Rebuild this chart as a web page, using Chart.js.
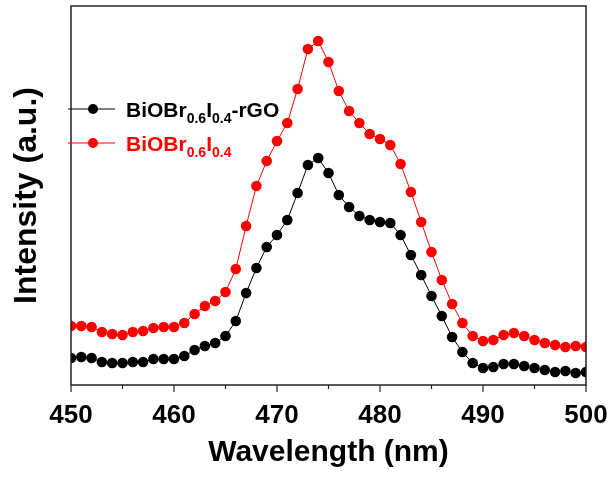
<!DOCTYPE html>
<html>
<head>
<meta charset="utf-8">
<style>
  html, body { margin: 0; padding: 0; background: #fff; }
  canvas { display: block; }
</style>
<script src="https://cdn.jsdelivr.net/npm/chart.js@4/dist/chart.umd.min.js"></script>
</head>
<body>
<canvas id="chart01" width="613" height="479"></canvas>
<script>
// wavelength (nm), one point per nm
var wavelengths = [];
for (var w = 450; w <= 500; w++) wavelengths.push(w);

// intensity (a.u.)
var rgoValues = [27, 28, 27, 23, 22, 22, 23, 23, 26, 26, 26,
  29, 35, 39, 42, 49, 64, 92, 117, 138, 150,
  165, 192, 220, 227, 212, 190, 178, 169, 165, 163,
  162, 150, 130, 110, 89, 69, 48, 33, 22, 17,
  18, 21, 21, 19, 17, 15, 13, 14, 12, 13];
var bareValues = [59, 59, 58, 53, 51, 50, 53, 54, 57, 58, 58,
  62, 71, 79, 84, 93, 116, 159, 199, 224, 244,
  262, 296, 336, 344, 323, 294, 274, 262, 251, 246,
  240, 221, 193, 163, 133, 105, 81, 62, 49, 44,
  45, 50, 52, 49, 45, 42, 40, 38, 39, 38];

var xTicks = [450, 460, 470, 480, 490, 500];
var xMinorTicks = [455, 465, 475, 485, 495];

// legend label pieces: [text, isSubscript]
var rgoLabel = [['BiOBr', false], ['0.6', true], ['I', false], ['0.4', true], ['-rGO', false]];
var bareLabel = [['BiOBr', false], ['0.6', true], ['I', false], ['0.4', true]];

function toPoints(vals) {
  return wavelengths.map(function(x, i) { return { x: x, y: vals[i] }; });
}

// frame, tick marks and the subscript legend
var decor = {
  id: 'decor',
  afterDraw: function(chart) {
    var ctx = chart.ctx;
    var a = chart.chartArea;
    var xs = chart.scales.x;
    ctx.save();
    ctx.strokeStyle = '#222';
    ctx.lineWidth = 1.5;
    ctx.strokeRect(a.left, a.top, a.right - a.left, a.bottom - a.top);

    ctx.lineWidth = 1.2;
    ctx.beginPath();
    xTicks.forEach(function(v) {
      var px = xs.getPixelForValue(v);
      ctx.moveTo(px, a.bottom);
      ctx.lineTo(px, a.bottom + 7);
    });
    xMinorTicks.forEach(function(v) {
      var px = xs.getPixelForValue(v);
      ctx.moveTo(px, a.bottom);
      ctx.lineTo(px, a.bottom + 4);
    });
    ctx.stroke();

    var items = [
      { parts: rgoLabel, color: '#000', y: 109 },
      { parts: bareLabel, color: '#ff0000', y: 143 }
    ];
    items.forEach(function(it) {
      ctx.strokeStyle = it.color;
      ctx.fillStyle = it.color;
      ctx.lineWidth = 1;
      ctx.beginPath();
      ctx.moveTo(68, it.y);
      ctx.lineTo(115, it.y);
      ctx.stroke();
      ctx.beginPath();
      ctx.arc(93, it.y, 5, 0, Math.PI * 2);
      ctx.fill();

      var x = 126;
      var base = it.y + 8;
      ctx.textBaseline = 'alphabetic';
      it.parts.forEach(function(p) {
        if (p[1]) {
          ctx.font = 'bold 14px "Liberation Sans", Arial, sans-serif';
          ctx.fillText(p[0], x, base + 6);
        } else {
          ctx.font = 'bold 21px "Liberation Sans", Arial, sans-serif';
          ctx.fillText(p[0], x, base);
        }
        x += ctx.measureText(p[0]).width;
      });
    });
    ctx.restore();
  }
};

var data = {
  datasets: [
  {
    label: 'BiOBr0.6I0.4-rGO',
    data: toPoints(rgoValues),
    borderColor: '#000',
    backgroundColor: '#000',
    borderWidth: 1,
    pointRadius: 5.3,
    pointBorderWidth: 0,
  },{
    label: 'BiOBr0.6I0.4',
    data: toPoints(bareValues),
    borderColor: '#ff0000',
    backgroundColor: '#ff0000',
    borderWidth: 1,
    pointRadius: 5.3,
    pointBorderWidth: 0,
  }]
};

var ctx = document.getElementById('chart01');
var myLineChart = new Chart(ctx, {
  type: 'line',
  data: data,
  plugins: [decor],
  options: {
    responsive: false,
    animation: false,
    layout: { padding: { left: 0, right: 27, top: 6, bottom: 0 } },
    plugins: {
      legend: { display: false },
      tooltip: { enabled: false },
    },
    scales: {
      x: {
        type: 'linear',
        min: 450,
        max: 500,
        grid: { display: false, drawTicks: false },
        border: { display: false },
        ticks: {
          stepSize: 10,
          color: '#000',
          padding: 15,
          font: { family: '"Liberation Sans", Arial, sans-serif', size: 26, weight: 'bold' },
        },
        title: {
          display: true,
          text: 'Wavelength (nm)',
          color: '#000',
          padding: { top: 0, bottom: 8 },
          font: { family: '"Liberation Sans", Arial, sans-serif', size: 30, weight: 'bold' },
        },
        afterFit: function(s) {
          s.height = 94;
          s.paddingLeft = 0;
          s.paddingRight = 0;
        },
      },
      y: {
        type: 'linear',
        min: 0,
        max: 379,
        grid: { display: false, drawTicks: false },
        border: { display: false },
        ticks: { display: false },
        title: {
          display: true,
          text: 'Intensity (a.u.)',
          color: '#000',
          padding: { top: 8, bottom: 0 },
          font: { family: '"Liberation Sans", Arial, sans-serif', size: 32, weight: 'bold' },
        },
        afterFit: function(s) {
          s.width = 71;
          s.paddingTop = 0;
          s.paddingBottom = 0;
        },
      },
    }
  },
});
</script>
</body>
</html>
